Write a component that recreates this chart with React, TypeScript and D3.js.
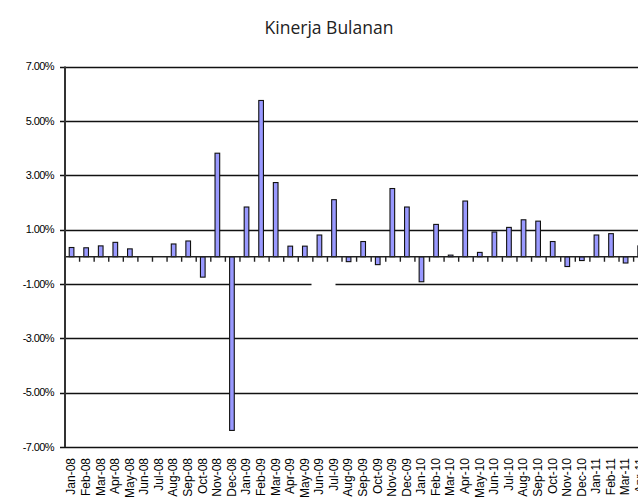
import React from "react";
import * as d3 from "d3";

const months = [
  "Jan-08","Feb-08","Mar-08","Apr-08","May-08","Jun-08","Jul-08","Aug-08","Sep-08","Oct-08","Nov-08","Dec-08",
  "Jan-09","Feb-09","Mar-09","Apr-09","May-09","Jun-09","Jul-09","Aug-09","Sep-09","Oct-09","Nov-09","Dec-09",
  "Jan-10","Feb-10","Mar-10","Apr-10","May-10","Jun-10","Jul-10","Aug-10","Sep-10","Oct-10","Nov-10","Dec-10",
  "Jan-11","Feb-11","Mar-11","Apr-11",
];

const returns = [
  0.34, 0.33, 0.40, 0.53, 0.29, 0, 0, 0.47, 0.58, -0.75, 3.81, -6.39,
  1.83, 5.75, 2.73, 0.39, 0.39, 0.80, 2.10, -0.18, 0.56, -0.29, 2.51, 1.83,
  -0.92, 1.19, 0.06, 2.05, 0.16, 0.91, 1.08, 1.36, 1.31, 0.56, -0.36, -0.14,
  0.80, 0.85, -0.23, 0.40,
];

const yTicks = [7, 5, 3, 1, -1, -3, -5, -7];

const title = "Kinerja Bulanan";

export default function App() {
  const W = 638, H = 503;
  const left = 65;
  const catW = 14.58;
  const x = d3.scaleBand<string>()
    .domain(months)
    .range([left, left + catW * months.length])
    .paddingInner(0)
    .paddingOuter(0);
  const y = d3.scaleLinear().domain([-7, 7]).range([447, 66.5]);
  const bw = x.bandwidth();
  const y0 = y(0);
  const fmt = (v: number) => v.toFixed(2) + "%";
  const axisFont = "'Liberation Sans', Arial, sans-serif";

  return (
    <svg width={W} height={H} style={{ position: "absolute", left: 0, top: 0, background: "#fff" }}>
      <rect x={0} y={0} width={W} height={H} fill="#fff" />
      <text x={329} y={34} textAnchor="middle" fontFamily="'Open Sans', sans-serif" fontSize={17.5} fill="#222">
        {title}
      </text>
      {/* gridlines */}
      {yTicks.map((t) => {
        const yy = Math.round(y(t)) + 0.5;
        if (t === -1) {
          return (
            <g key={t}>
              <line x1={60} x2={311.5} y1={yy} y2={yy} stroke="#111" strokeWidth={1.5} />
              <line x1={335.5} x2={W + 20} y1={yy} y2={yy} stroke="#111" strokeWidth={1.5} />
            </g>
          );
        }
        return <line key={t} x1={60} x2={W + 20} y1={yy} y2={yy} stroke="#111" strokeWidth={1.5} />;
      })}
      {/* y labels */}
      {yTicks.map((t) => (
        <text key={"l" + t} x={54} y={y(t)} dy="0.35em" textAnchor="end" fontFamily={axisFont} fontSize={11} fill="#000" letterSpacing={-0.6}>
          {fmt(t)}
        </text>
      ))}
      {/* bars */}
      {months.map((m, i) => {
        const v = returns[i];
        if (v === 0) return null;
        const x0 = (x(m) as number) + bw * 0.29;
        const yt = Math.min(y(v), y0);
        const h = Math.abs(y(v) - y0);
        return (
          <rect key={m} x={x0} y={yt} width={bw * 0.32} height={h} fill="#9999FF" stroke="#111" strokeWidth={1.1} />
        );
      })}
      {/* zero axis */}
      <line x1={left} x2={W + 20} y1={y0} y2={y0} stroke="#222" strokeWidth={1.5} />
      {months.map((m, i) =>
        i === 0 ? null : (
          <line key={"t" + m} x1={x(m) as number} x2={x(m) as number} y1={y0} y2={y0 + 5} stroke="#222" strokeWidth={1.4} />
        )
      )}
      {/* left axis */}
      <line x1={left} x2={left} y1={y(7)} y2={y(-7)} stroke="#333" strokeWidth={2} />
      {/* x labels */}
      {months.map((m) => {
        const cx = (x(m) as number) + bw / 2 - 1.2;
        return (
          <text
            key={"x" + m}
            transform={`translate(${cx},458) rotate(-90)`}
            dy="0.36em"
            textAnchor="end"
            fontFamily={axisFont}
            fontSize={12}
            fill="#000"
          >
            {m}
          </text>
        );
      })}
    </svg>
  );
}
